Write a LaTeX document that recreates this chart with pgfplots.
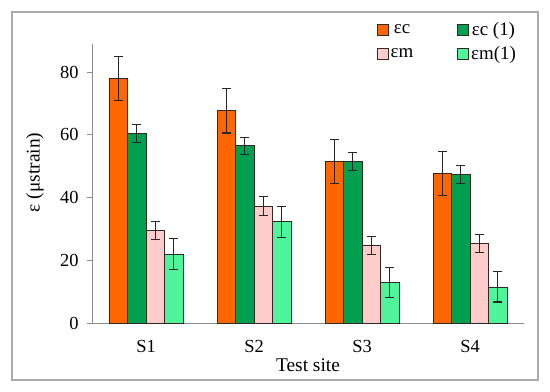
\documentclass[border=0pt]{standalone}
\usepackage{fontspec}
\setmainfont{Liberation Serif}
\usepackage{pgfplots}
\pgfplotsset{compat=1.18}
\definecolor{cOr}{RGB}{255,102,0}
\definecolor{cDg}{RGB}{0,160,80}
\definecolor{cPk}{RGB}{255,204,204}
\definecolor{cLg}{RGB}{80,245,155}
\definecolor{edge}{RGB}{50,40,35}
\begin{document}
\begin{tikzpicture}[x=1bp,y=1bp]
\useasboundingbox (-92,-68) rectangle (458,323);
\draw[color={rgb,255:red,170;green,170;blue,170}, line width=1.3bp] (-80,-57) rectangle (446,311);
\begin{axis}[
  at={(0,0)}, anchor=south west,
  scale only axis, width=432bp, height=279bp,
  xmin=-0.5, xmax=3.5, ymin=0, ymax=89,
  axis x line*=bottom, axis y line*=left,
  axis line style={color={rgb,255:red,140;green,140;blue,140}, line width=0.9bp},
  xtick={0,1,2,3}, xticklabels={S1,S2,S3,S4},
  ytick={0,20,40,60,80},
  tick align=outside, major tick length=5bp,
  major x tick style={draw=none},
  major y tick style={color={rgb,255:red,140;green,140;blue,140}, line width=0.9bp},
  /pgf/number format/assume math mode=true,
  ticklabel style={font=\fontsize{18.5}{21}\selectfont},
  xticklabel style={yshift=-9bp},
  yticklabel style={xshift=-5bp},
  xlabel={Test site}, ylabel={ε (μstrain)},
  label style={font=\fontsize{19.5}{22}\selectfont},
  xlabel style={at={(axis description cs:0.5,-0.15)}, anchor=center},
  ylabel style={at={(axis description cs:-0.132,0.54)}, anchor=center},
  ybar=0pt, bar width=18.5bp,
  error bars/error bar style={color=black!85, line width=1.1bp},
  error bars/error mark options={rotate=90, mark size=4.5bp, color=black!85, line width=1.1bp},
  legend columns=2,
  legend style={draw=none, fill=none, font=\fontsize{19}{22}\selectfont,
    at={(axis description cs:0.652,1.093)}, anchor=north west,
    /tikz/every even column/.append style={column sep=42bp},
    row sep=6bp},
  legend image code/.code={\draw[#1, draw=edge, line width=0.8bp] (0bp,-5.5bp) rectangle (11bp,5.5bp);},
]
\addplot[fill=cOr, draw=edge, line width=0.9bp, error bars/.cd, y dir=both, y explicit] coordinates {
  (0,78.0) +- (0,7.1)
  (1,67.7) +- (0,7.1)
  (2,51.5) +- (0,7.1)
  (3,47.7) +- (0,7.0)
};
\addplot[fill=cDg, draw=edge, line width=0.9bp, error bars/.cd, y dir=both, y explicit] coordinates {
  (0,60.5) +- (0,2.8)
  (1,56.5) +- (0,2.8)
  (2,51.5) +- (0,2.8)
  (3,47.4) +- (0,2.8)
};
\addplot[fill=cPk, draw=edge, line width=0.9bp, error bars/.cd, y dir=both, y explicit] coordinates {
  (0,29.5) +- (0,2.9)
  (1,37.3) +- (0,3.0)
  (2,24.7) +- (0,2.9)
  (3,25.4) +- (0,2.9)
};
\addplot[fill=cLg, draw=edge, line width=0.9bp, error bars/.cd, y dir=both, y explicit] coordinates {
  (0,22.0) +- (0,4.9)
  (1,32.3) +- (0,4.9)
  (2,12.8) +- (0,4.8)
  (3,11.5) +- (0,4.8)
};
\legend{εc, εc (1), εm, εm(1)}
\end{axis}
\end{tikzpicture}
\end{document}
